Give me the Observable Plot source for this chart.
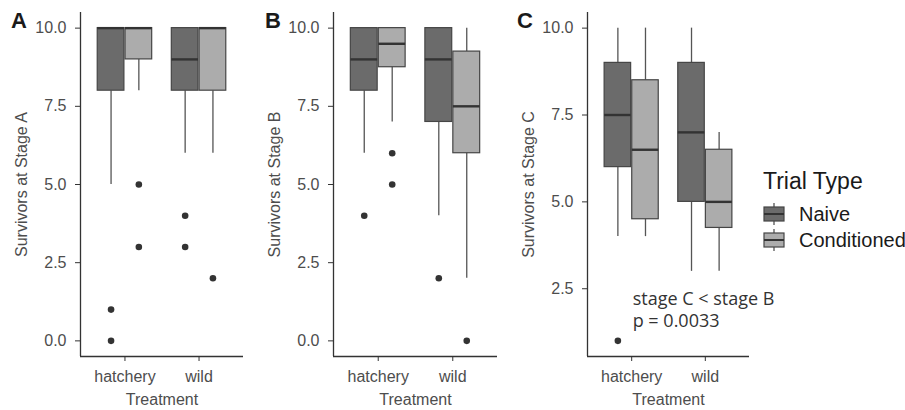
<!DOCTYPE html>
<html>
<head>
<meta charset="utf-8">
<script src="https://cdn.jsdelivr.net/npm/d3@7"></script>
<script src="https://cdn.jsdelivr.net/npm/@observablehq/plot@0.6"></script>
<style>
  body { margin: 0; background: #ffffff; }
  #wrap { position: relative; width: 905px; height: 410px; overflow: hidden; background: #ffffff;
          font-family: "Liberation Sans", Arial, sans-serif; }
  .panel { position: absolute; top: 0; }
  .letter { position: absolute; font-weight: bold; font-size: 22px; line-height: 1; color: #1a1a1a; }
  #legend { position: absolute; left: 755px; top: 160px; }
</style>
</head>
<body>
<div id="wrap"></div>
<script>
// ---------- data ----------
const treatments = ["hatchery", "wild"];
const trialTypes = ["Naive", "Conditioned"];
// group order: hatchery/Naive, hatchery/Conditioned, wild/Naive, wild/Conditioned
const groupTreatment = ["hatchery", "hatchery", "wild", "wild"];
const groupTrial = ["Naive", "Conditioned", "Naive", "Conditioned"];

const stageA_lower  = [5, 8, 6, 6];
const stageA_q1     = [8, 9, 8, 8];
const stageA_median = [10, 10, 9, 10];
const stageA_q3     = [10, 10, 10, 10];
const stageA_upper  = [10, 10, 10, 10];
const stageA_outliers = [[1, 0], [5, 3], [4, 3], [2]];

const stageB_lower  = [6, 7, 4, 2];
const stageB_q1     = [8, 8.75, 7, 6];
const stageB_median = [9, 9.5, 9, 7.5];
const stageB_q3     = [10, 10, 10, 9.25];
const stageB_upper  = [10, 10, 10, 10];
const stageB_outliers = [[4], [6, 5], [2], [0]];

const stageC_lower  = [4, 4, 3, 3];
const stageC_q1     = [6, 4.5, 5, 4.25];
const stageC_median = [7.5, 6.5, 7, 5];
const stageC_q3     = [9, 8.5, 9, 6.5];
const stageC_upper  = [10, 10, 10, 7];
const stageC_outliers = [[1], [], [], []];

const yTicksAB = [0, 2.5, 5, 7.5, 10];
const yTicksC  = [2.5, 5, 7.5, 10];
const annotationLines = ["stage C < stage B", "p = 0.0033"];

// ---------- styling ----------
const fills = ["#6b6b6b", "#acacac"];
const boxStroke = "#454545";
const whiskerStroke = "#555555";
const axisColor = "#333333";
const dodge = 0.1875, halfWidth = 0.18;

function buildGroups(lower, q1, median, q3, upper) {
  return groupTreatment.map((t, i) => ({
    treatment: t, trial: groupTrial[i],
    pos: treatments.indexOf(t) + 1 + (groupTrial[i] === "Naive" ? -dodge : dodge),
    lower: lower[i], q1: q1[i], median: median[i], q3: q3[i], upper: upper[i]
  }));
}

function panel({groups, outliers, yDomain, yTicks, yLabel, marginLeft, marginRight, extra = []}) {
  const outs = groups.flatMap((g, i) => outliers[i].map(v => ({pos: g.pos, value: v})));
  return Plot.plot({
    width: 250, height: 410,
    marginLeft, marginRight, marginTop: 12, marginBottom: 54,
    style: {fontFamily: "'Liberation Sans', Arial, sans-serif", fontSize: "16px", color: "#4d4d4d", background: "transparent", overflow: "visible"},
    x: {type: "linear", domain: [0.4, 2.6]},
    y: {type: "linear", domain: yDomain},
    color: {domain: trialTypes, range: fills},
    marks: [
      Plot.ruleX(groups, {x: "pos", y1: "q3", y2: "upper", stroke: whiskerStroke, strokeWidth: 1.3}),
      Plot.ruleX(groups, {x: "pos", y1: "lower", y2: "q1", stroke: whiskerStroke, strokeWidth: 1.3}),
      Plot.rect(groups, {x1: d => d.pos - halfWidth, x2: d => d.pos + halfWidth, y1: "q1", y2: "q3",
                         fill: "trial", stroke: boxStroke, strokeWidth: 1.2}),
      Plot.ruleY(groups, {y: "median", x1: d => d.pos - halfWidth, x2: d => d.pos + halfWidth,
                          stroke: "#333333", strokeWidth: 2.4}),
      Plot.dot(outs, {x: "pos", y: "value", r: 3.3, fill: "#333333", stroke: null}),
      ...extra,
      Plot.ruleX([yDomain[0]], {x: () => 0.4, stroke: axisColor, strokeWidth: 1.3}),
      Plot.ruleY([yDomain[0]], {stroke: axisColor, strokeWidth: 1.3}),
      Plot.axisY({ticks: yTicks, tickFormat: d3.format(".1f"), tickSize: 5, tickPadding: 9,
                  stroke: axisColor, fill: "#4d4d4d",
                  label: yLabel, labelAnchor: "center", labelArrow: "none", labelOffset: 65}),
      Plot.axisX({ticks: [1, 2], tickFormat: d => treatments[d - 1], tickSize: 5, tickPadding: 9,
                  stroke: axisColor, fill: "#4d4d4d",
                  label: "Treatment", labelAnchor: "center", labelArrow: "none", labelOffset: 48})
    ]
  });
}

const wrap = document.getElementById("wrap");
function place(el, left) {
  const d = document.createElement("div");
  d.className = "panel";
  d.style.left = left + "px";
  d.appendChild(el);
  wrap.appendChild(d);
}
function letter(txt, left, top) {
  const d = document.createElement("div");
  d.className = "letter";
  d.style.left = left + "px";
  d.style.top = top + "px";
  d.textContent = txt;
  wrap.appendChild(d);
}

const groupsA = buildGroups(stageA_lower, stageA_q1, stageA_median, stageA_q3, stageA_upper);
const groupsB = buildGroups(stageB_lower, stageB_q1, stageB_median, stageB_q3, stageB_upper);
const groupsC = buildGroups(stageC_lower, stageC_q1, stageC_median, stageC_q3, stageC_upper);

place(panel({groups: groupsA, outliers: stageA_outliers, yDomain: [-0.5, 10.5], yTicks: yTicksAB,
             yLabel: "Survivors at Stage A", marginLeft: 80, marginRight: 7}), 0);
place(panel({groups: groupsB, outliers: stageB_outliers, yDomain: [-0.5, 10.5], yTicks: yTicksAB,
             yLabel: "Survivors at Stage B", marginLeft: 81, marginRight: 5}), 252);
place(panel({groups: groupsC, outliers: stageC_outliers, yDomain: [0.55, 10.45], yTicks: yTicksC,
             yLabel: "Survivors at Stage C", marginLeft: 81, marginRight: 7,
             extra: [Plot.text([annotationLines.join("\n")], {x: () => 1, y: () => 1.93, text: d => d,
                       textAnchor: "start", lineAnchor: "middle", lineHeight: 1.25,
                       fontFamily: "'Open Sans', sans-serif", fontSize: 18, fill: "#333333", dx: 1})]}), 506);

letter("A", 11, 10);
letter("B", 265, 10);
letter("C", 517, 10);

// ---------- legend ----------
const leg = d3.select("#wrap").append("svg").attr("id", "legend").attr("width", 150).attr("height", 100);
leg.append("text").attr("x", 8).attr("y", 28.5).text("Trial Type")
  .attr("font-size", 23).attr("fill", "#1a1a1a").attr("font-family", "'Liberation Sans', Arial, sans-serif");
trialTypes.forEach((t, i) => {
  const cy = 54 + i * 26;
  const g = leg.append("g");
  g.append("line").attr("x1", 19).attr("x2", 19).attr("y1", cy - 11).attr("y2", cy + 11)
    .attr("stroke", whiskerStroke).attr("stroke-width", 1.3);
  g.append("rect").attr("x", 9).attr("y", cy - 7).attr("width", 20).attr("height", 14)
    .attr("fill", fills[i]).attr("stroke", boxStroke).attr("stroke-width", 1.2);
  g.append("line").attr("x1", 9).attr("x2", 29).attr("y1", cy).attr("y2", cy)
    .attr("stroke", "#333333").attr("stroke-width", 2);
  g.append("text").attr("x", 44).attr("y", cy + 7).text(t)
    .attr("font-size", 20).attr("fill", "#1a1a1a").attr("font-family", "'Liberation Sans', Arial, sans-serif");
});
</script>
</body>
</html>
